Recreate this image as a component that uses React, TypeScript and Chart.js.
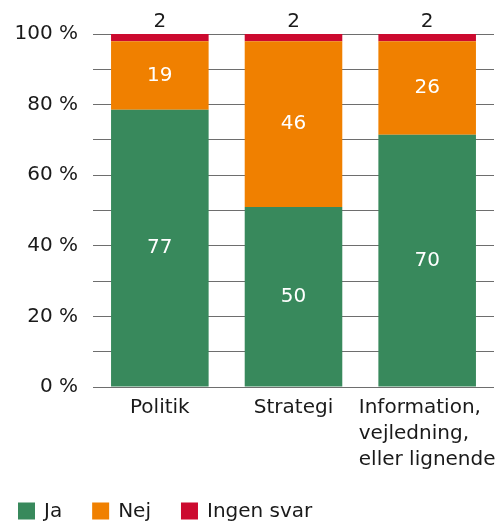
import React, { useEffect, useRef } from "react";
import { Chart, registerables } from "chart.js";

Chart.register(...registerables);

const categories: (string | string[])[] = ["Politik", "Strategi", ["Information,", "vejledning,", "eller lignende"]];
const seriesNames = ["Ja", "Nej", "Ingen svar"];
const ja = [77, 50, 70];
const nej = [19, 46, 26];
const ingenSvar = [2, 2, 2];
const colors = ["#38895C", "#F08000", "#CC0A2F"];
const yTickValues = [0, 20, 40, 60, 80, 100];

const FONT = "'DejaVu Sans', sans-serif";

const rawSeries = [ja, nej, ingenSvar];
const totals = categories.map((_, i) => ja[i] + nej[i] + ingenSvar[i]);
const normalized = rawSeries.map((s) => s.map((v, i) => (v / totals[i]) * 100));

const labelPlugin = {
  id: "valueLabels",
  afterDatasetsDraw(chart: any) {
    const ctx = chart.ctx;
    ctx.save();
    ctx.font = `20px ${FONT}`;
    ctx.textAlign = "center";
    chart.data.datasets.forEach((ds: any, di: number) => {
      const meta = chart.getDatasetMeta(di);
      meta.data.forEach((el: any, j: number) => {
        const raw = rawSeries[di][j];
        if (di < 2) {
          ctx.fillStyle = "#ffffff";
          ctx.textBaseline = "middle";
          ctx.fillText(String(raw), el.x, (el.y + el.base) / 2);
        } else {
          ctx.fillStyle = "#1a1a1a";
          ctx.textBaseline = "bottom";
          ctx.fillText(String(raw), el.x, el.y - 2);
        }
      });
    });
    ctx.restore();
  },
};

const xLabelPlugin = {
  id: "xLabels",
  afterDraw(chart: any) {
    const ctx = chart.ctx;
    const xScale = chart.scales.x;
    ctx.save();
    ctx.font = `20px ${FONT}`;
    ctx.fillStyle = "#1a1a1a";
    ctx.textAlign = "left";
    ctx.textBaseline = "top";
    categories.forEach((cat, i) => {
      const lines = Array.isArray(cat) ? cat : [cat];
      const maxW = Math.max(...lines.map((l) => ctx.measureText(l).width));
      const cx = xScale.getPixelForValue(i);
      const left = cx - maxW / 2;
      lines.forEach((l, k) => {
        ctx.fillText(l, left, xScale.top + 11 + k * 26);
      });
    });
    ctx.restore();
  },
};

const legendPlugin = {
  id: "customLegend",
  afterDraw(chart: any) {
    const ctx = chart.ctx;
    ctx.save();
    ctx.font = `20px ${FONT}`;
    ctx.textBaseline = "middle";
    ctx.textAlign = "left";
    let x = 18;
    const cy = 511;
    seriesNames.forEach((name, i) => {
      ctx.fillStyle = colors[i];
      ctx.fillRect(x, cy - 8.5, 17, 17);
      ctx.fillStyle = "#1a1a1a";
      ctx.fillText(name, x + 26, cy + 1);
      x += 26 + ctx.measureText(name).width + 30;
    });
    ctx.restore();
  },
};

export default function App() {
  const ref = useRef<HTMLCanvasElement | null>(null);
  useEffect(() => {
    document.body.style.margin = "0";
    if (!ref.current) return;
    const chart = new Chart(ref.current, {
      type: "bar",
      data: {
        labels: categories,
        datasets: seriesNames.map((name, i) => ({
          label: name,
          data: normalized[i],
          backgroundColor: colors[i],
          borderWidth: 0,
          barPercentage: 0.73,
          categoryPercentage: 1,
        })),
      },
      options: {
        responsive: false,
        animation: false,
        layout: { padding: { top: 34, left: 0, right: 8, bottom: 0 } },
        plugins: { legend: { display: false }, tooltip: { enabled: false } },
        scales: {
          x: {
            stacked: true,
            grid: { display: false },
            border: { display: false },
            ticks: { display: false },
            afterFit(scale: any) {
              scale.height = 135;
            },
          },
          y: {
            stacked: true,
            min: 0,
            max: 100,
            border: { display: false },
            grid: { color: "#6e6e6e", lineWidth: 1, drawTicks: false },
            ticks: {
              stepSize: 10,
              padding: 15,
              color: "#1a1a1a",
              font: { family: FONT, size: 20 },
              callback: (v: any) => (yTickValues.includes(Number(v)) ? `${v} %` : ""),
            },
            afterFit(scale: any) {
              scale.width = 93;
            },
          },
        },
      },
      plugins: [labelPlugin, xLabelPlugin, legendPlugin],
    });
    return () => chart.destroy();
  }, []);
  return (
    <div style={{ width: 502, height: 522 }}>
      <canvas ref={ref} width={502} height={522} />
    </div>
  );
}
